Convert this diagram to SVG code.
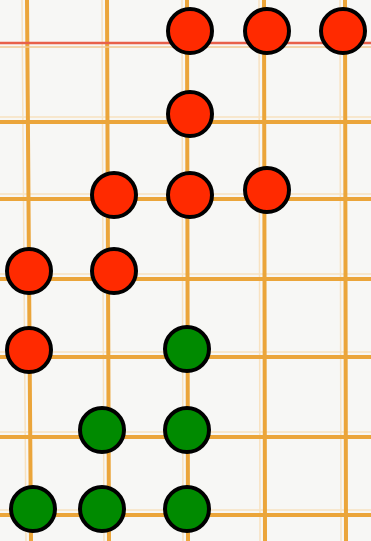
<svg xmlns="http://www.w3.org/2000/svg" width="371" height="541" viewBox="0 0 371 541">
<style>
.g{stroke:#eba53a;stroke-width:4;fill:none}
.gf{stroke:#f8e2c0;stroke-width:1.5;fill:none}
.r{fill:#ff2a00;stroke:#000;stroke-width:4}
.v{fill:#008a00;stroke:#000;stroke-width:4}
</style>
<rect width="371" height="541" fill="#f7f7f5"/>
<g id="grid">
<path class="gf" d="M0 117H371M0 194H371M0 274H371M0 352H371M0 432H371M0 510H371M22 0L26 541M102 0L104 541M182 0L183 541M259 0L260 541M340 0L341 541"/>
<path class="g" d="M27 0L31 541M107 0L109 541M187 0L188 541M264 0L265 541M345 0L346 541"/>
<path class="g" d="M0 122H371M0 199H371M0 279H371M0 357H371M0 437H371M0 515H371"/>
<path d="M0 43H371" stroke="#e8604a" stroke-width="2.5" fill="none"/>
<path d="M0 47H371" stroke="#f2c890" stroke-width="1.5" fill="none"/>
</g>
<g id="nodes">
<circle id="n1" class="r" cx="190" cy="31" r="22"/>
<circle id="n2" class="r" cx="267" cy="31" r="22"/>
<circle id="n3" class="r" cx="343" cy="31" r="22"/>
<circle id="n4" class="r" cx="190" cy="114" r="22"/>
<circle id="n5" class="r" cx="114" cy="195" r="22"/>
<circle id="n6" class="r" cx="190" cy="195" r="22"/>
<circle id="n7" class="r" cx="267" cy="190" r="22"/>
<circle id="n8" class="r" cx="29" cy="271" r="22"/>
<circle id="n9" class="r" cx="114" cy="271" r="22"/>
<circle id="n10" class="r" cx="29" cy="350" r="22"/>
<circle id="n11" class="v" cx="187" cy="349" r="22"/>
<circle id="n12" class="v" cx="102" cy="430" r="22"/>
<circle id="n13" class="v" cx="187" cy="430" r="22"/>
<circle id="n14" class="v" cx="33" cy="509" r="22"/>
<circle id="n15" class="v" cx="102" cy="509" r="22"/>
<circle id="n16" class="v" cx="187" cy="509" r="22"/>
</g>
<g id="connectors"></g>
</svg>
